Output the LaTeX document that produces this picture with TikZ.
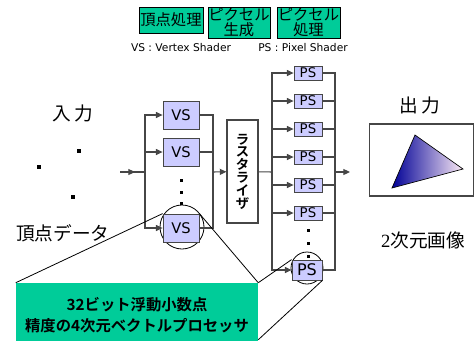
\documentclass[tikz,border=0pt]{standalone}
\usepackage{fontspec}
\setmainfont{DejaVu Sans}
\newfontfamily\jp[BoldFont={* Bold}]{Noto Sans CJK JP}
\newfontfamily\num{Liberation Serif}
\definecolor{stagegreen}{RGB}{0,204,153}
\definecolor{shaderfill}{RGB}{204,204,255}
\definecolor{wiregray}{RGB}{70,70,70}
\usetikzlibrary{arrows.meta,calc}

\begin{document}
\begin{tikzpicture}[x=0.75pt,y=0.75pt,yscale=-1,xscale=1,
	wire/.style={draw=wiregray,line width=0.8pt},
	feed/.style={wire,-{Triangle[length=5pt,width=4.5pt]}},
	stage/.style={draw=black,fill=stagegreen,line width=0.6pt,inner sep=0pt,align=center,font=\jp\fontsize{11.5}{11.5}\selectfont},
	vsbox/.style={draw=wiregray,fill=shaderfill,line width=0.6pt,minimum width=27pt,minimum height=21pt,inner sep=0pt,font=\fontsize{11}{11}\selectfont},
	psbox/.style={vsbox,minimum width=21pt,minimum height=10.5pt,font=\fontsize{10}{10}\selectfont},
	lens/.style={circle,draw=black,line width=0.6pt,inner sep=0pt},
	biglabel/.style={font=\jp\fontsize{14}{14}\selectfont},
	note/.style={font=\fontsize{8}{8}\selectfont}]
	\useasboundingbox (0,0) rectangle (476,340);
	
	% stage legend
	\node[stage,minimum width=48pt,minimum height=19.5pt] (stvertex) at (171,20) {頂点処理};
	\node[stage,minimum width=46.5pt,minimum height=23.25pt] (stpixgen) at (239,22.5) {ピクセル\\生成};
	\node[stage,minimum width=47.25pt,minimum height=23.25pt] (stpixproc) at (308.5,22.5) {ピクセル\\処理};
	\node[note] (vsnote) at (181,48) {VS : Vertex Shader};
	\node[note] (psnote) at (303,48) {PS : Pixel Shader};
	
	% input vertices
	\node[biglabel] (inlabel) at (73,113) {入\,力};
	\foreach \px/\py in {79/151,39/167,73/197}
		\fill (\px-2,\py-2) rectangle +(4,4);
	\node[biglabel] (vtxdata) at (63,233) {頂点データ};
	
	% close-up circles and processor box
	\node[lens,minimum size=33pt] (vslens) at (182,227) {};
	\node[lens,minimum size=24pt] (pslens) at (307,268) {};
	\node[fill=stagegreen,minimum width=181.5pt,minimum height=48pt,align=center,font=\jp\bfseries\fontsize{11.5}{16}\selectfont] (vecproc) at (137,315) {32ビット浮動小数点\\精度の4次元ベクトルプロセッサ};
	\coordinate (vecfoot) at ($(vecproc.north east)+(0,57)$);
	
	% forks and joins
	\coordinate (src) at (120,172);
	\coordinate (vsfork) at (145,172);
	\coordinate (vsjoin) at (213,172);
	\coordinate (psfork) at (272,172);
	\coordinate (psjoin) at (335,172);
	\coordinate (outtip) at (350,172);
	
	% vertex shaders
	\node[vsbox] (vs1) at (181,115) {VS};
	\node[vsbox] (vs2) at (181,152) {VS};
	\node[vsbox] (vs3) at (181,228) {VS};
	\draw[wire] (src) -- (vsfork);
	\draw[feed] (src) -- ($(src)!0.6!(vsfork)$);
	\foreach \v in {vs1,vs2,vs3}{
		\draw[feed] (vsfork) |- (\v.west);
		\draw[wire] (\v.east) -| (vsjoin);
	}
	\foreach \py in {180,192,203}
		\fill (181-1.5,\py-1.5) rectangle +(3,3);
	
	% rasterizer
	\node[draw=wiregray,line width=0.8pt,minimum width=23.25pt,minimum height=77.25pt,inner sep=0pt,align=center,font=\jp\bfseries\fontsize{10}{9.6}\selectfont] (raster) at (242.5,171.5) {ラ\\ス\\タ\\ラ\\イ\\ザ};
	\draw[feed] (vsjoin) -- (raster);
	\draw[wire] (raster) -- (psfork);
	
	% pixel shaders
	\foreach \i in {1,...,6}
		\node[psbox] (ps\i) at (308,45+28*\i) {PS};
	\node[psbox,minimum width=22.5pt,minimum height=15pt,font=\fontsize{12}{12}\selectfont] (ps9) at (307,270) {PS};
	\foreach \i in {1,2,3,4,5,6,9}{
		\draw[feed] (psfork) |- (ps\i.west);
		\draw[wire] (ps\i.east) -| (psjoin);
	}
	\foreach \py in {230,243,256}
		\fill (308-1.5,\py-1.5) rectangle +(3,3);
	\draw[feed] (psjoin) -- (outtip);
	
	% close-up lines
	\draw[line width=0.6pt] (vs3.north west) -- (vecproc.north west);
	\draw[line width=0.6pt] (vs3.north east) -- (vecproc.north east);
	\draw[line width=0.6pt] (ps9.north west) -- (vecproc.north east);
	\draw[line width=0.6pt] (ps9.south east) -- (vecfoot);
	
	% output image
	\node[biglabel] (outlabel) at (420,105) {出\,力};
	\node[draw=wiregray,line width=0.8pt,minimum width=78pt,minimum height=54pt] (screen) at (421.5,160) {};
	\shadedraw[left color={rgb,255:red,0;green,0;blue,150},right color={rgb,255:red,252;green,234;blue,245},draw=black,line width=0.5pt] (392,188) -- (415,135) -- (463,169) -- cycle;
	\node[biglabel] (imglabel) at (423,240) {{\num 2}次元画像};
	
\end{tikzpicture}
\end{document}
